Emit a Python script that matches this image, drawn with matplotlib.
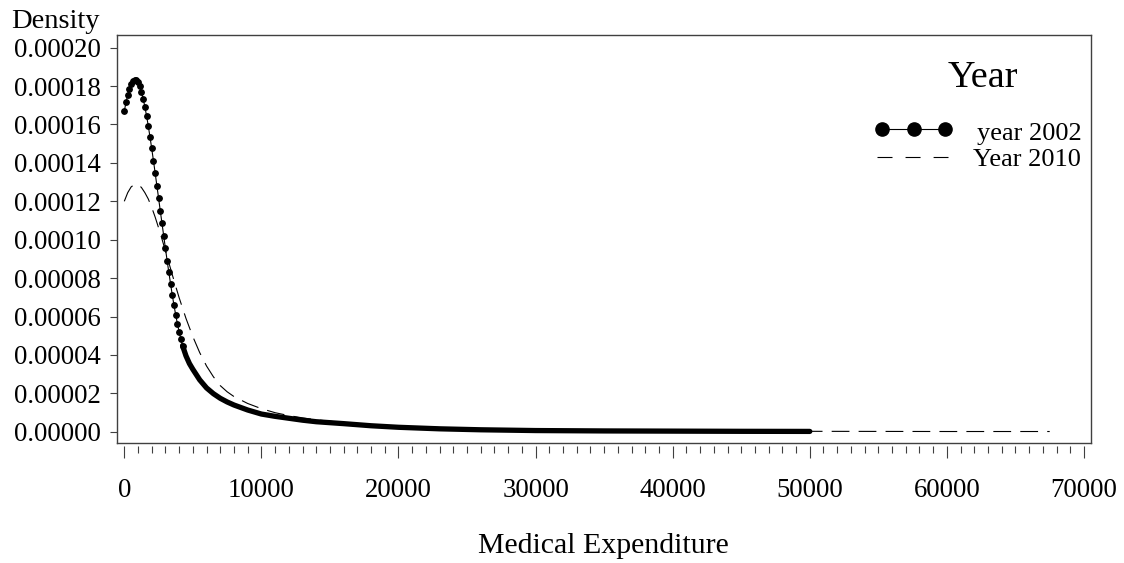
import matplotlib
matplotlib.use("Agg")
import matplotlib.pyplot as plt
from matplotlib.lines import Line2D
from matplotlib.ticker import MultipleLocator, FuncFormatter

plt.rcParams["font.family"] = ["Liberation Serif", "DejaVu Serif"]
plt.rcParams["lines.scale_dashes"] = False

# year 2002 density near the peak (kde grid, step 125), values x 1e-5
x2002_peak = list(range(0, 4251, 125))
d2002_peak = [16.70, 17.15, 17.55, 17.87, 18.10, 18.26, 18.33, 18.32, 18.20,
              17.98, 17.70, 17.35, 16.92, 16.45, 15.92, 15.35, 14.75, 14.12,
              13.48, 12.82, 12.17, 11.50, 10.85, 10.20, 9.55, 8.90, 8.30,
              7.70, 7.12, 6.58, 6.08, 5.62, 5.20, 4.82, 4.48]

# year 2002 tail (dots merge into a solid band here), values x 1e-5
x2002_tail = [4250, 4500, 4750, 5000, 5500, 6000, 6500, 7000, 7500, 8000,
              9000, 10000, 11000, 12000, 13000, 14000, 16000, 18000, 20000,
              23000, 26000, 30000, 35000, 40000, 45000, 50000]
d2002_tail = [4.48, 3.95, 3.55, 3.25, 2.70, 2.28, 1.98, 1.74, 1.55, 1.39,
              1.13, 0.92, 0.80, 0.70, 0.60, 0.52, 0.42, 0.31, 0.23,
              0.15, 0.10, 0.06, 0.04, 0.03, 0.02, 0.015]

# year 2010 density, values x 1e-5
x2010 = [0, 250, 500, 750, 1000, 1250, 1500, 1750, 2000, 2250, 2500, 2750,
         3000, 3250, 3500, 3750, 4000, 4500, 5000, 5500, 6000, 6500, 7000,
         7500, 8000, 9000, 10000, 11000, 12000, 13000, 14000, 16000, 18000,
         20000, 25000, 30000, 35000, 40000, 45000, 50000, 55000, 60000, 67500]
d2010 = [12.00, 12.45, 12.75, 12.88, 12.88, 12.72, 12.45, 12.12, 11.68,
         11.18, 10.62, 10.03, 9.42, 8.80, 8.18, 7.57, 6.98, 5.90, 4.95,
         4.12, 3.42, 2.86, 2.40, 2.08, 1.83, 1.47, 1.20, 0.99, 0.84, 0.72,
         0.62, 0.47, 0.36, 0.29, 0.17, 0.10, 0.06, 0.04, 0.03, 0.02, 0.015,
         0.01, 0.01]

y2002_peak = [v * 1e-5 for v in d2002_peak]
y2002_tail = [v * 1e-5 for v in d2002_tail]
y2010 = [v * 1e-5 for v in d2010]

W, H = 1124, 563
axis_col = "#404040"
tick_size = 19.3


def fx(px):
    return px / W


def fy(py):
    return 1 - py / H


fig = plt.figure(figsize=(W / 100, H / 100), dpi=100)
ax = fig.add_axes([fx(116.7), fy(443.3), fx(1090.7) - fx(116.7), fy(34.7) - fy(443.3)])

ax.plot(x2010, y2010, color="black", lw=0.8, dashes=(12.8, 6.6))
ax.plot(x2002_tail, y2002_tail, color="black", lw=3.8,
        solid_capstyle="round", solid_joinstyle="round")
ax.plot(x2002_peak, y2002_peak, color="black", lw=0.8, marker="o", ms=3.9)

ax.set_xlim(-554, 70490)
ax.set_ylim(-6.04e-6, 2.0677e-4)

ax.xaxis.set_major_locator(MultipleLocator(10000))
ax.xaxis.set_minor_locator(MultipleLocator(1000))
ax.xaxis.set_major_formatter(FuncFormatter(lambda v, p: f"{int(round(v))}"))
ax.yaxis.set_major_locator(MultipleLocator(0.00002))
ax.yaxis.set_major_formatter(FuncFormatter(lambda v, p: f"{abs(v) if abs(v) < 1e-12 else v:.5f}"))

for s in ["top", "right", "left"]:
    ax.spines[s].set_color(axis_col)
    ax.spines[s].set_linewidth(1.0)
ax.spines["bottom"].set_position(("outward", 2.2))
ax.spines["bottom"].set_visible(False)
ax.plot([0, 1], [0, 0], transform=ax.transAxes, color=axis_col, lw=1.0, clip_on=False)

ax.tick_params(axis="x", which="major", direction="out", length=8.6, width=0.8,
               color=axis_col, pad=14.5, labelsize=tick_size)
ax.tick_params(axis="x", which="minor", direction="out", length=5, width=0.8, color=axis_col)
ax.tick_params(axis="y", direction="out", length=5.4, width=0.8, color=axis_col,
               pad=6.3, labelsize=tick_size)

fig.text(fx(100), fy(28.3), "Density", ha="right", va="baseline", size=20.5)
fig.text(fx(603.5), fy(553), "Medical Expenditure", ha="center", va="baseline", size=21.5)

# legend
fig.text(fx(983), fy(87), "Year", ha="center", va="baseline", size=27.5)
fig.add_artist(Line2D([fx(882), fx(945)], [fy(129), fy(129)], color="black", lw=0.8,
                      transform=fig.transFigure))
fig.add_artist(Line2D([fx(882), fx(913.5), fx(945)], [fy(129)] * 3, color="black", lw=0,
                      marker="o", ms=9.5, transform=fig.transFigure))
fig.text(fx(1082), fy(140), "year 2002", ha="right", va="baseline", size=19)
fig.add_artist(Line2D([fx(877), fx(948)], [fy(157), fy(157)], color="black", lw=0.8,
                      dashes=(10.8, 9.4), transform=fig.transFigure))
fig.text(fx(1081), fy(166), "Year 2010", ha="right", va="baseline", size=19)

fig.savefig("out.png", dpi=100)
plt.close(fig)
